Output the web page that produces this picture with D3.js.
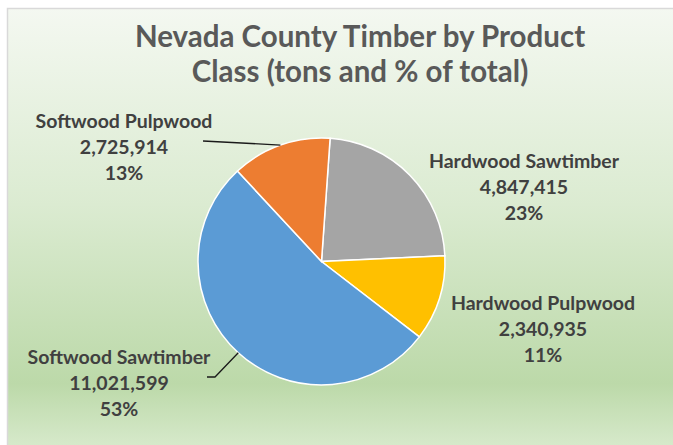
<!DOCTYPE html>
<html>
<head>
<meta charset="utf-8">
<script src="https://cdn.jsdelivr.net/npm/d3@7"></script>
<style>
  body { margin: 0; background: #fff; }
  svg { display: block; }
</style>
</head>
<body>
<div class="chart"></div>
<script>
// data
const categories = ["Hardwood Sawtimber", "Hardwood Pulpwood", "Softwood Sawtimber", "Softwood Pulpwood"]
const tons = [4847415, 2340935, 11021599, 2725914]
const titleLines = ["Nevada County Timber by Product", "Class (tons and % of total)"]

const colors = ["#A5A5A5", "#FFC000", "#5B9BD5", "#ED7D31"]

const width = 673
const height = 445
const cx = 321.5, cy = 261.5, radius = 123.5
const firstAngle = 4 * Math.PI / 180

// label block centre x and first baseline
const labelPos = {
  "Hardwood Sawtimber": [524, 168],
  "Hardwood Pulpwood": [543, 310],
  "Softwood Sawtimber": [119, 364],
  "Softwood Pulpwood": [124, 128]
}
// leader line start points (ends on the slice edge)
const leaderStart = {
  "Softwood Pulpwood": [[203, 141]],
  "Softwood Sawtimber": [[207, 377], [215, 377]]
}
const lineGap = 26

const svg = d3.select(".chart").append("svg")
  .attr("width", width)
  .attr("height", height)

const grad = svg.append("defs").append("linearGradient")
  .attr("id", "bg")
  .attr("x1", 0).attr("y1", 0).attr("x2", 0).attr("y2", 1)
grad.selectAll("stop")
  .data([[0, "#f4f8f1"], [0.45, "#dbebd1"], [0.86, "#bcd9a9"], [1, "#d6e9ca"]])
  .enter().append("stop")
  .attr("offset", d => d[0])
  .attr("stop-color", d => d[1])

svg.append("rect")
  .attr("x", 7).attr("y", 8)
  .attr("width", width - 7).attr("height", height - 8)
  .attr("fill", "url(#bg)")
svg.append("path")
  .attr("d", `M7.5,${height} V8.5 H${width}`)
  .attr("fill", "none")
  .attr("stroke", "#d9d9d9")
  .attr("stroke-width", 1.5)

svg.append("text")
  .attr("x", 360)
  .attr("font-family", "Lato, sans-serif")
  .attr("font-weight", "bold")
  .attr("font-size", 29.5)
  .attr("fill", "#595959")
  .attr("text-anchor", "middle")
  .selectAll("tspan")
  .data(titleLines)
  .enter().append("tspan")
  .attr("x", 360)
  .attr("y", (d, i) => 47 + i * 35)
  .text(d => d)

const data = categories.map((c, i) => ({ name: c, value: tons[i], color: colors[i] }))
const total = d3.sum(tons)

const pie = d3.pie()
  .sort(null)
  .value(d => d.value)
  .startAngle(firstAngle)
  .endAngle(firstAngle + 2 * Math.PI)

const arc = d3.arc().innerRadius(0).outerRadius(radius)
const arcs = pie(data)

const g = svg.append("g").attr("transform", `translate(${cx}, ${cy})`)
g.selectAll("path")
  .data(arcs)
  .enter().append("path")
  .attr("d", arc)
  .attr("fill", d => d.data.color)
  .attr("stroke", "#fff")
  .attr("stroke-width", 1.5)

const edgePoint = d => {
  const a = (d.startAngle + d.endAngle) / 2
  return [cx + radius * Math.sin(a), cy - radius * Math.cos(a)]
}

svg.selectAll("polyline.leader")
  .data(arcs.filter(d => leaderStart[d.data.name]))
  .enter().append("polyline")
  .attr("class", "leader")
  .attr("points", d => leaderStart[d.data.name].concat([edgePoint(d)]).join(" "))
  .attr("fill", "none")
  .attr("stroke", "#1a1a1a")
  .attr("stroke-width", 1.3)

const fmt = d3.format(",")
const pct = d3.format(".0%")

const labels = svg.selectAll("text.label")
  .data(arcs)
  .enter().append("text")
  .attr("class", "label")
  .attr("font-family", "Lato, sans-serif")
  .attr("font-weight", "bold")
  .attr("font-size", 19.5)
  .attr("fill", "#404040")
  .attr("text-anchor", "middle")

labels.selectAll("tspan")
  .data(d => [d.data.name, fmt(d.data.value), pct(d.data.value / total)]
    .map(t => ({ t: t, pos: labelPos[d.data.name] })))
  .enter().append("tspan")
  .attr("x", d => d.pos[0])
  .attr("y", (d, i) => d.pos[1] + i * lineGap)
  .text(d => d.t)
</script>
</body>
</html>
